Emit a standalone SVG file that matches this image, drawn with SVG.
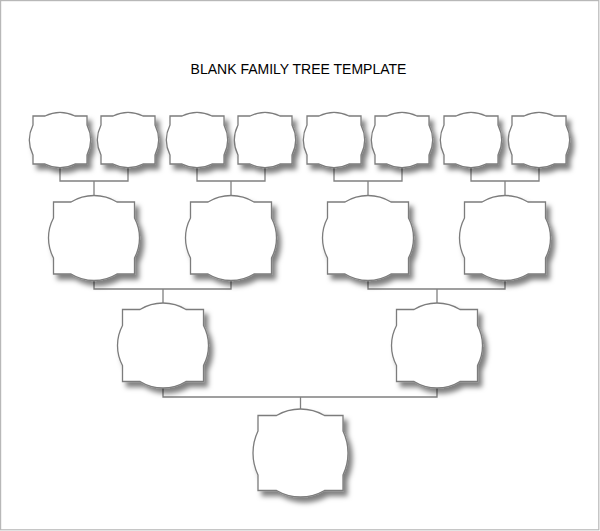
<svg xmlns="http://www.w3.org/2000/svg" xmlns:xlink="http://www.w3.org/1999/xlink" width="600" height="531" viewBox="0 0 600 531">
<style>
.frame{fill:#ffffff;stroke:#b8b8b8;stroke-width:1.2}
.node{fill:#ffffff;stroke:#7c7c7c;stroke-width:1.3;filter:url(#shadow)}
.conn{fill:none;stroke:#808080;stroke-width:1.3}
.title{font-family:"Liberation Sans",Arial,sans-serif;font-size:14px;fill:#000000}
</style>
<defs>
<filter id="shadow" x="-30%" y="-30%" width="170%" height="170%">
<feDropShadow dx="4" dy="5" stdDeviation="2.8" flood-color="#000000" flood-opacity="0.5"/>
</filter>
<path id="small" d="M -27,-24 H -15 A 33.9 33.9 0 0 1 15,-24 H 27 V -15 A 33.9 33.9 0 0 1 27,15 V 24 H 15 A 33.9 33.9 0 0 1 -15,24 H -27 V 15 A 33.9 33.9 0 0 1 -27,-15 Z"/>
<path id="mid" d="M -40.5,-36 H -23 A 43.9 43.9 0 0 1 23,-36 H 40.5 V -20 A 42.5 42.5 0 0 1 40.5,20 V 36 H 23 A 43.9 43.9 0 0 1 -23,36 H -40.5 V 20 A 42.5 42.5 0 0 1 -40.5,-20 Z"/>
<path id="large" d="M -42.5,-37.5 H -24 A 47.6 47.6 0 0 1 24,-37.5 H 42.5 V -22 A 50.9 50.9 0 0 1 42.5,22 V 37.5 H 24 A 47.6 47.6 0 0 1 -24,37.5 H -42.5 V 22 A 50.9 50.9 0 0 1 -42.5,-22 Z"/>
</defs>
<rect class="frame" x="0.6" y="0.6" width="598.2" height="529.2"/>
<text class="title" x="298.5" y="74" text-anchor="middle">BLANK FAMILY TREE TEMPLATE</text>
<g id="connectors">
<path class="conn" d="M60,167.5 V181 H128 V167.5 M94,181 V195.5"/>
<path class="conn" d="M197,167.5 V181 H265 V167.5 M231,181 V195.5"/>
<path class="conn" d="M334,167.5 V181 H402 V167.5 M368,181 V195.5"/>
<path class="conn" d="M471,167.5 V181 H539 V167.5 M505,181 V195.5"/>
<path class="conn" d="M94,280.5 V289 H231 V280.5 M163,289 V303.5"/>
<path class="conn" d="M368,280.5 V289 H505 V280.5 M437,289 V303.5"/>
<path class="conn" d="M163,388 V397 H437 V388 M300.5,397 V409"/>
</g>
<g id="gen4-1"><use xlink:href="#small" class="node" x="60" y="140"/></g>
<g id="gen4-2"><use xlink:href="#small" class="node" x="128" y="140"/></g>
<g id="gen4-3"><use xlink:href="#small" class="node" x="197" y="140"/></g>
<g id="gen4-4"><use xlink:href="#small" class="node" x="265" y="140"/></g>
<g id="gen4-5"><use xlink:href="#small" class="node" x="334" y="140"/></g>
<g id="gen4-6"><use xlink:href="#small" class="node" x="402" y="140"/></g>
<g id="gen4-7"><use xlink:href="#small" class="node" x="471" y="140"/></g>
<g id="gen4-8"><use xlink:href="#small" class="node" x="539" y="140"/></g>
<g id="gen3-1"><use xlink:href="#mid" class="node" x="94" y="238"/></g>
<g id="gen3-2"><use xlink:href="#mid" class="node" x="231" y="238"/></g>
<g id="gen3-3"><use xlink:href="#mid" class="node" x="368" y="238"/></g>
<g id="gen3-4"><use xlink:href="#mid" class="node" x="505" y="238"/></g>
<g id="gen2-1"><use xlink:href="#mid" class="node" x="163" y="345.5"/></g>
<g id="gen2-2"><use xlink:href="#mid" class="node" x="437" y="345.5"/></g>
<g id="gen1"><use xlink:href="#large" class="node" x="300.5" y="453"/></g>
</svg>
